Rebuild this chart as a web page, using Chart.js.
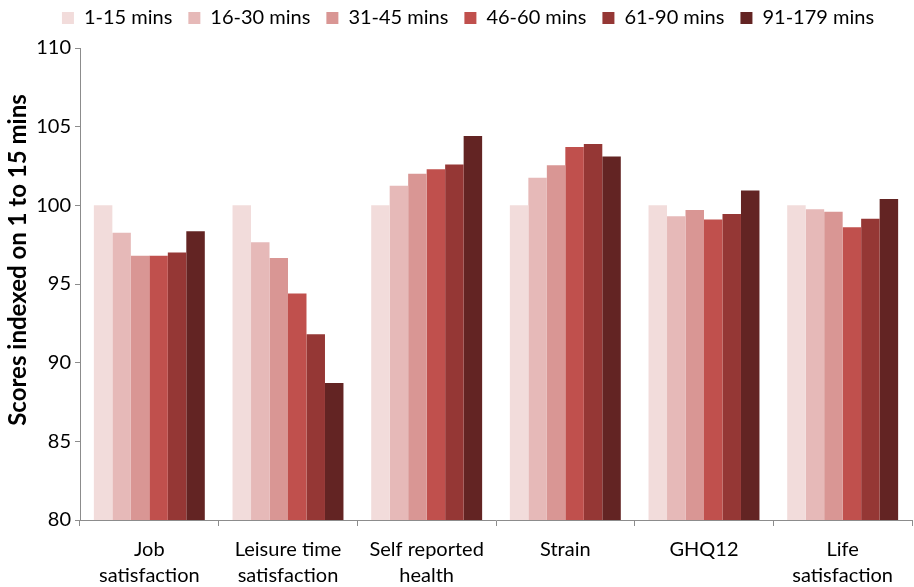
<!DOCTYPE html>
<html><head><meta charset="utf-8">
<script src="https://cdn.jsdelivr.net/npm/chart.js@4.4.1/dist/chart.umd.min.js"></script>
<style>html,body{margin:0;padding:0;background:#fff}#wrap{width:914px;height:587px}</style>
</head><body><div id="wrap"><canvas id="c" width="914" height="587"></canvas></div>
<script>
const categories = [["Job","satisfaction"],["Leisure time","satisfaction"],["Self reported","health"],["Strain"],["GHQ12"],["Life","satisfaction"]];
const seriesNames = ["1-15 mins","16-30 mins","31-45 mins","46-60 mins","61-90 mins","91-179 mins"];
const s1_15 = [100, 100, 100, 100, 100, 100];
const s16_30 = [98.25, 97.65, 101.25, 101.75, 99.3, 99.75];
const s31_45 = [96.8, 96.65, 102.0, 102.55, 99.7, 99.6];
const s46_60 = [96.8, 94.4, 102.3, 103.7, 99.1, 98.6];
const s61_90 = [97.0, 91.8, 102.6, 103.9, 99.45, 99.15];
const s91_179 = [98.35, 88.7, 104.4, 103.1, 100.95, 100.4];
const colors = ["#F2DCDB","#E6B9B8","#D99694","#C0504D","#953735","#632423"];
const allSeries = [s1_15, s16_30, s31_45, s46_60, s61_90, s91_179];
const FONT = "Lato, 'Liberation Sans', sans-serif";

const legendTweak = {
  id: 'legendTweak',
  beforeInit(chart) {
    const orig = chart.legend.fit;
    chart.legend.fit = function() { orig.call(this); this.height = 56; };
  },
  afterLayout(chart) {
    chart.legend.left += 12;
    chart.legend.right += 12;
  }
};

new Chart(document.getElementById('c'), {
  type: 'bar',
  data: {
    labels: categories,
    datasets: allSeries.map((d, i) => ({
      label: seriesNames[i], data: d, backgroundColor: colors[i],
      borderWidth: 0, categoryPercentage: 0.8, barPercentage: 1.0
    }))
  },
  options: {
    responsive: false, animation: false,
    layout: { padding: { left: 0, right: 2, top: -8, bottom: 0 } },
    plugins: {
      legend: {
        position: 'top',
        labels: { font: { family: FONT, size: 20 }, color: '#000', boxWidth: 12, boxHeight: 12, padding: 16 }
      },
      tooltip: { enabled: false }
    },
    scales: {
      x: {
        grid: { display: true, drawOnChartArea: false, drawTicks: true, tickLength: 6, color: '#8c8c8c', offset: true },
        border: { display: true, color: '#8c8c8c' },
        ticks: { font: { family: FONT, size: 20, lineHeight: 1.3 }, color: '#000', padding: 11, maxRotation: 0, autoSkip: false },
        afterFit: s => { s.height = 67; }
      },
      y: {
        min: 80, max: 110,
        grid: { display: true, drawOnChartArea: false, drawTicks: true, tickLength: 5, color: '#8c8c8c' },
        border: { display: true, color: '#8c8c8c' },
        ticks: { stepSize: 5, font: { family: FONT, size: 20 }, color: '#000', padding: 4 },
        title: { display: true, text: '\u2002\u2002\u2002\u2002Scores indexed on 1 to 15 mins', font: { family: FONT, size: 24, weight: 'bold' }, color: '#000', padding: { top: 4, bottom: 0 } },
        afterFit: s => { s.width = 80; }
      }
    }
  },
  plugins: [legendTweak]
});
</script></body></html>
